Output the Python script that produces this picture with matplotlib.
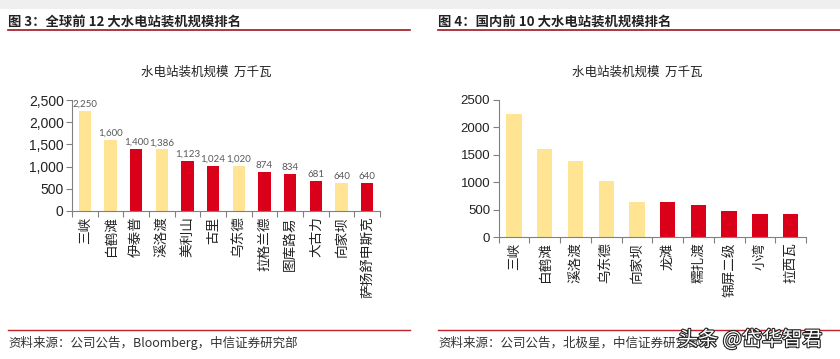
import numpy as np
import matplotlib
matplotlib.use("Agg")
import matplotlib.pyplot as plt
import matplotlib.patheffects as pe
from matplotlib.ticker import FuncFormatter

plt.rcParams['font.family'] = ['Noto Sans CJK SC', 'DejaVu Sans']

YELLOW = '#FFE494'
RED = '#DA0019'

# === 全球前 12 大 ===
world_names = ['三峡', '白鹤滩', '伊泰普', '溪洛渡', '美利山', '古里', '乌东德',
               '拉格兰德', '图库路易', '大古力', '向家坝', '萨扬舒申斯克']
world_values = [2250, 1600, 1400, 1386, 1123, 1024, 1020, 874, 834, 681, 640, 640]
world_is_china = [True, True, False, True, False, False, True,
                  False, False, False, True, False]

# === 国内前 10 大 ===
china_names = ['三峡', '白鹤滩', '溪洛渡', '乌东德', '向家坝', '龙滩', '糯扎渡',
               '锦屏二级', '小湾', '拉西瓦']
china_values = [2250, 1600, 1386, 1020, 640, 630, 585, 480, 420, 420]
china_is_top5 = [True] * 5 + [False] * 5

W, H = 840, 359
fig = plt.figure(figsize=(W / 100, H / 100), dpi=100)


def px(x0, y0, x1, y1):
    # 像素坐标 -> figure 比例
    return [x0 / W, 1 - y1 / H, (x1 - x0) / W, (y1 - y0) / H]


def style_axes(ax, n, ysize):
    for s in ['top', 'right']:
        ax.spines[s].set_visible(False)
    for s in ['left', 'bottom']:
        ax.spines[s].set_color('#808080')
        ax.spines[s].set_linewidth(0.8)
    ax.set_xlim(-0.5, n - 0.5)
    ax.set_ylim(0, 2500)
    ax.set_yticks(np.arange(0, 2501, 500))
    ax.set_xticks(np.arange(n))
    ax.set_xticks(np.arange(n + 1) - 0.5, minor=True)
    ax.tick_params(axis='x', which='major', length=0, pad=4)
    ax.tick_params(axis='x', which='minor', length=4, color='#808080', width=0.8)
    ax.tick_params(axis='y', length=4, color='#808080', width=0.8,
                   labelsize=ysize, labelcolor='#222222', pad=2)
    for t in ax.get_yticklabels():
        t.set_family('Liberation Sans')


# --- 左图 ---
ax1 = fig.add_axes(px(72, 100, 380, 211))
colors1 = [YELLOW if c else RED for c in world_is_china]
ax1.bar(np.arange(len(world_values)), world_values, width=0.47, color=colors1)
ax1.yaxis.set_major_formatter(FuncFormatter(lambda v, p: f'{int(v):,}'))
style_axes(ax1, len(world_values), 10)
ax1.set_xticklabels(world_names, rotation=90, fontsize=9.8, va='top',
                    color='#222222')
for i, v in enumerate(world_values):
    ax1.text(i, v + 45, f'{v:,}', ha='center', va='bottom', fontsize=7,
             color='#595959', family='Lato')

# --- 右图 ---
ax2 = fig.add_axes(px(498.6, 100, 806, 237))
colors2 = [YELLOW if c else RED for c in china_is_top5]
ax2.bar(np.arange(len(china_values)), china_values, width=0.5, color=colors2)
style_axes(ax2, len(china_values), 9.5)
ax2.set_xticklabels(china_names, rotation=90, fontsize=9.8, va='top',
                    color='#222222')

# --- 标题与注释 ---
fig.text(8 / W, 1 - 22 / H, '图 3：全球前 12 大水电站装机规模排名', fontsize=9.6,
         color='#222222', va='center', fontweight='bold')
fig.text(438 / W, 1 - 22 / H, '图 4：国内前 10 大水电站装机规模排名', fontsize=9.6,
         color='#222222', va='center', fontweight='bold')
fig.text(206 / W, 1 - 72 / H, '水电站装机规模  万千瓦', fontsize=9,
         color='#222222', ha='center', va='center')
fig.text(637 / W, 1 - 72 / H, '水电站装机规模  万千瓦', fontsize=9,
         color='#222222', ha='center', va='center')

for x0, x1 in [(8, 410), (438, 840)]:
    fig.add_artist(plt.Line2D([x0 / W, x1 / W], [1 - 29.5 / H] * 2,
                              color='#A0141E', lw=1.2))
    fig.add_artist(plt.Line2D([x0 / W, x1 / W], [1 - 329.5 / H] * 2,
                              color='#C0202A', lw=1.0))

fig.text(8 / W, 1 - 343 / H, '资料来源：公司公告，Bloomberg，中信证券研究部',
         fontsize=9, color='#333333', va='center')
fig.text(438 / W, 1 - 343 / H, '资料来源：公司公告，北极星，中信证券研究部',
         fontsize=9, color='#333333', va='center')

# 顶部浅灰条
fig.add_artist(plt.Rectangle((0, 1 - 9 / H), 1, 9 / H, color='#EFEFEF', lw=0))

# 水印
fig.text(678 / W, 1 - 340 / H, '头条 @岱华智君', fontsize=14.5, color='white',
         va='center', path_effects=[pe.withStroke(linewidth=1.6, foreground='#222222')])

fig.savefig('out.png', dpi=100)
